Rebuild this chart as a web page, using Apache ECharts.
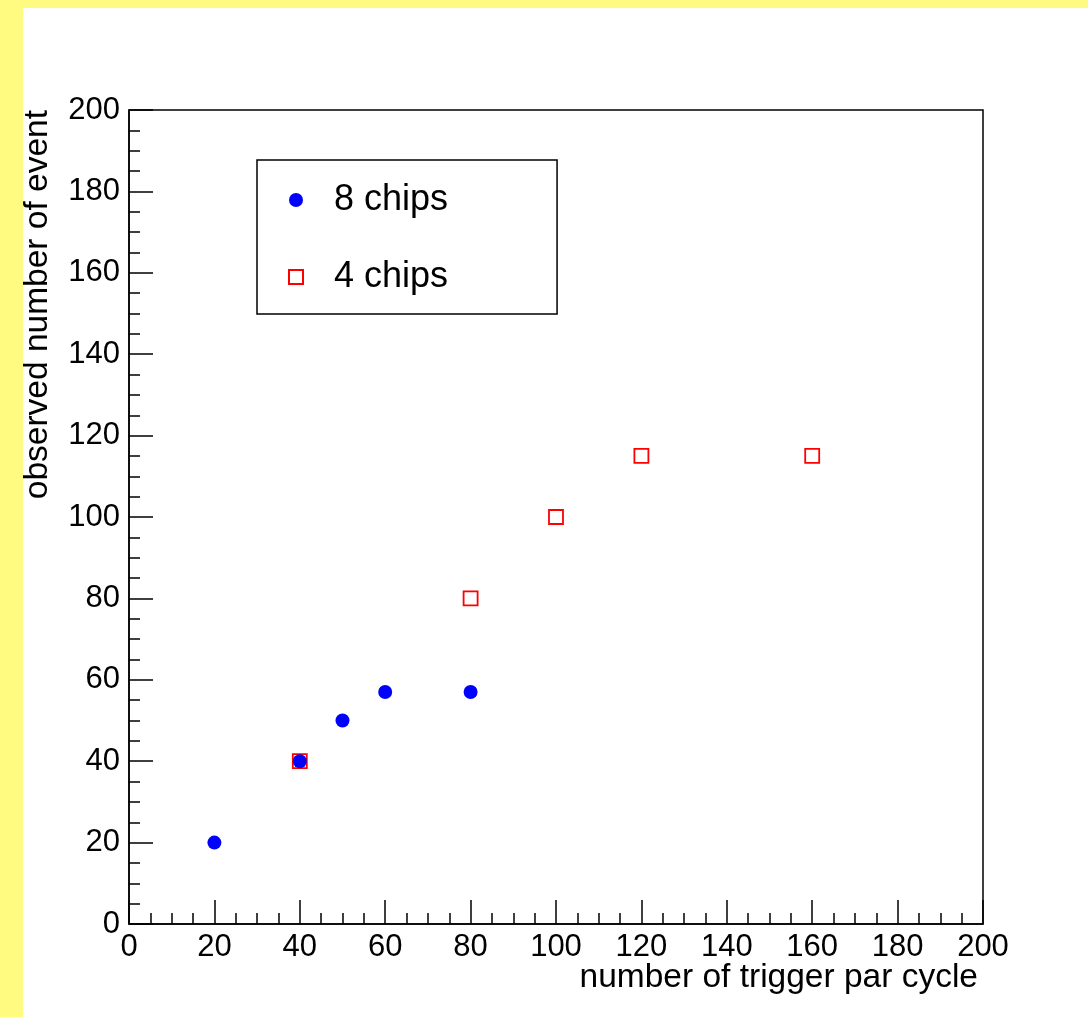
<!DOCTYPE html>
<html>
<head>
<meta charset="utf-8">
<script src="https://cdn.jsdelivr.net/npm/echarts@6/dist/echarts.min.js"></script>
<style>
  html, body { margin: 0; padding: 0; background: #ffffff; }
  body { width: 1088px; height: 1017px; position: relative; overflow: hidden; }
  .frame-left { position: absolute; left: 0; top: 0; width: 23px; height: 1017px; background: #fffb80; }
  .frame-top { position: absolute; left: 0; top: 0; width: 1088px; height: 8px; background: #fffb80; }
  #chart { position: absolute; left: 0; top: 0; width: 1088px; height: 1017px; }
</style>
</head>
<body>
<div class="frame-left"></div>
<div class="frame-top"></div>
<div id="chart"></div>
<script>
// Triggers per cycle vs. events observed, for two chip configurations
const chips8Trigger = [20, 40, 50, 60, 80];
const chips8Events  = [20, 40, 50, 57, 57];
const chips4Trigger = [40, 80, 100, 120, 160];
const chips4Events  = [40, 80, 100, 115, 115];
const seriesNames = ['8 chips', '4 chips'];

const FONT = "'Liberation Sans', Arial, Helvetica, sans-serif";
const LABEL_FS = 31;
const TITLE_FS = 33.5;
const LEGEND_FS = 36;

function pairs(xs, ys) {
  return xs.map((x, i) => [x, ys[i]]);
}

const axisCommon = {
  type: 'value',
  min: 0,
  max: 200,
  interval: 20,
  nameMoveOverlap: false,
  axisLine: { show: true, lineStyle: { color: '#000', width: 1.5 } },
  axisTick: { show: true, inside: true, length: 24, lineStyle: { color: '#000', width: 1.5 } },
  minorTick: { show: true, splitNumber: 4, length: 11, lineStyle: { color: '#000', width: 1.5 } },
  splitLine: { show: false },
  minorSplitLine: { show: false },
  axisLabel: { color: '#000', fontSize: LABEL_FS, fontFamily: FONT, lineHeight: 30, showMinLabel: true, showMaxLabel: true }
};

const chart = echarts.init(document.getElementById('chart'), null, { renderer: 'canvas' });
chart.setOption({
  backgroundColor: 'transparent',
  animation: false,
  grid: {
    left: 129, top: 110, right: 105, bottom: 93,
    containLabel: false,
    outerBoundsMode: 'none',
    show: true, borderColor: '#000', borderWidth: 1.5, backgroundColor: 'transparent'
  },
  xAxis: Object.assign({}, axisCommon, {
    axisLabel: Object.assign({}, axisCommon.axisLabel, { margin: 8 }),
    name: 'number of trigger par cycle',
    nameLocation: 'end',
    nameGap: 0,
    nameTextStyle: {
      color: '#000', fontSize: TITLE_FS, fontFamily: FONT, lineHeight: 34,
      align: 'right', verticalAlign: 'top', padding: [37, 5, 0, 0]
    }
  }),
  yAxis: Object.assign({}, axisCommon, {
    axisLabel: Object.assign({}, axisCommon.axisLabel, { margin: 9 }),
    name: 'observed number of event',
    nameLocation: 'end',
    nameGap: 0,
    nameRotate: 90,
    nameTextStyle: {
      color: '#000', fontSize: TITLE_FS, fontFamily: FONT, lineHeight: 34,
      align: 'right', verticalAlign: 'bottom', padding: [0, 0, 74, 0]
    }
  }),
  legend: {
    orient: 'vertical',
    left: 257,
    top: 160,
    data: [
      { name: seriesNames[0], icon: 'circle' },
      { name: seriesNames[1], icon: 'rect' }
    ],
    itemWidth: 14,
    itemHeight: 14,
    itemGap: 37,
    padding: [20, 109, 17, 31],
    borderColor: '#000',
    borderWidth: 1.5,
    borderRadius: 0,
    backgroundColor: '#fff',
    textStyle: { color: '#000', fontSize: LEGEND_FS, fontFamily: FONT, lineHeight: 40, padding: [0, 0, 0, 26] }
  },
  series: [
    {
      name: seriesNames[1],
      type: 'scatter',
      symbol: 'rect',
      symbolSize: 14,
      z: 2,
      itemStyle: { color: 'rgba(0,0,0,0)', borderColor: '#ff0000', borderWidth: 1.8, opacity: 1 },
      data: pairs(chips4Trigger, chips4Events)
    },
    {
      name: seriesNames[0],
      type: 'scatter',
      symbol: 'circle',
      symbolSize: 14,
      z: 3,
      itemStyle: { color: '#0000ff', opacity: 1 },
      data: pairs(chips8Trigger, chips8Events)
    }
  ]
});
</script>
</body>
</html>
